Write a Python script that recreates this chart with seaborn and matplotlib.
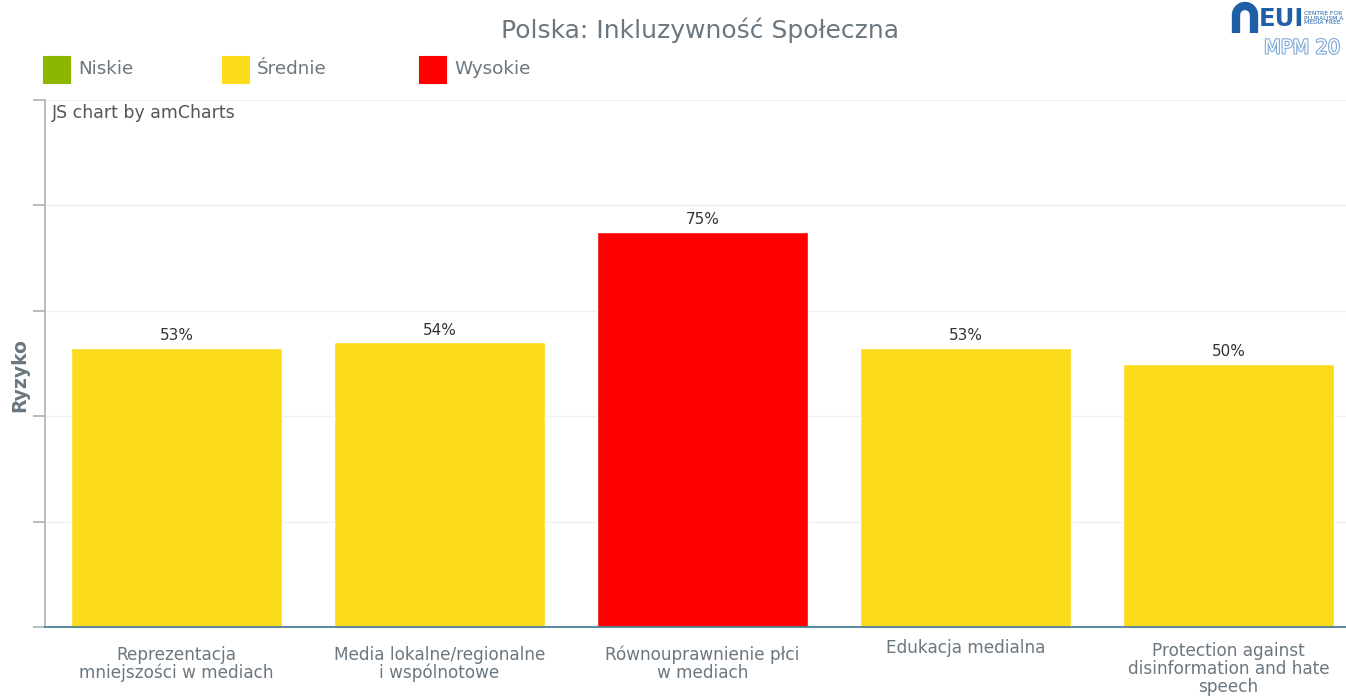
import matplotlib
matplotlib.use("Agg")
import matplotlib.pyplot as plt
import matplotlib.patheffects as pe
from matplotlib.patches import Rectangle
from matplotlib.lines import Line2D
from matplotlib.transforms import blended_transform_factory
import numpy as np
import seaborn as sns
import pandas as pd

categories = ["Reprezentacja\nmniejszości w mediach",
              "Media lokalne/regionalne\ni wspólnotowe",
              "Równouprawnienie płci\nw mediach",
              "Edukacja medialna",
              "Protection against\ndisinformation and hate\nspeech"]
values = [53, 54, 75, 53, 50]
risk = ["Średnie", "Średnie", "Wysokie", "Średnie", "Średnie"]
legend_labels = ["Niskie", "Średnie", "Wysokie"]
legend_colors = ["#8DB600", "#FCDC1A", "#FF0000"]
palette = dict(zip(legend_labels, legend_colors))

df = pd.DataFrame({"cat": categories, "val": values, "risk": risk})

sns.set_theme(style="white")
plt.rcParams['font.family'] = ['DejaVu Sans']

W, H = 1346, 696
fig = plt.figure(figsize=(W / 100, H / 100), dpi=100)
ax = fig.add_axes([45 / W, 69 / H, 1315 / W, 527 / H])

sns.barplot(data=df, x="cat", y="val", hue="risk", palette=palette,
            dodge=False, width=0.805, ax=ax, legend=False, saturation=1)

ax.set_ylim(0, 100)
ax.set_xlim(-0.5, 4.5)
ax.set_yticks([0, 20, 40, 60, 80, 100])
ax.set_yticklabels([])
ax.yaxis.grid(True, color="#f0f0f0", linewidth=1)
ax.set_axisbelow(True)
ax.set_xticks([-0.5, 0.5, 1.5, 2.5, 3.5])
ax.set_xticklabels([])

# vertical centre (figure pixels) of each category label block
label_centres_px = [664, 664, 664, 648, 669]
trans = blended_transform_factory(ax.transData, fig.transFigure)
for i, (c, cy) in enumerate(zip(categories, label_centres_px)):
    ax.text(i, 1 - cy / H, c, transform=trans,
            ha="center", va="center", fontsize=12.2, color="#6b7780", linespacing=1.02)
ax.tick_params(axis="x", length=6, color="#4d7f93", width=1.2, direction="out")
ax.tick_params(axis="y", length=9, color="#a9b3ba", width=1.2, direction="out", left=True)

for s in ["top", "right"]:
    ax.spines[s].set_visible(False)
ax.spines["bottom"].set_color("#4d7f93")
ax.spines["bottom"].set_linewidth(1.3)
ax.spines["left"].set_color("#a9b3ba")
ax.spines["left"].set_linewidth(1.2)

for i, v in enumerate(values):
    ax.text(i, v + 0.9, f"{v}%", ha="center", va="bottom", fontsize=11, color="#333333")

ax.set_xlabel("")
ax.set_ylabel("")
fig.text(20 / W, 1 - 375 / H, "Ryzyko", rotation=90, fontsize=13.5, fontweight="bold",
         color="#6b7780", ha="center", va="center")

fig.text(700 / W, 1 - 30 / H, "Polska: Inkluzywność Społeczna", ha="center", va="center",
         fontsize=18, color="#6b7780")

fig.text(52 / W, 1 - 113 / H, "JS chart by amCharts",
         fontsize=12.5, color="#555555", ha="left", va="center")

# legend (manual, figure-pixel layout)
leg_x = [43, 222, 419]
for lx, lab, col in zip(leg_x, legend_labels, legend_colors):
    fig.add_artist(Rectangle((lx / W, 1 - 83 / H), 27 / W, 27 / H,
                             transform=fig.transFigure, facecolor=col,
                             edgecolor=col, linewidth=0.8))
    fig.text((lx + 35) / W, 1 - 69 / H, lab, fontsize=13.2, color="#6b7780",
             ha="left", va="center")

# logo approximation
t = np.linspace(np.pi, 0, 30)
cx, cy, r = 1245, 15, 9
xs = np.concatenate([[cx - r], cx + r * np.cos(t), [cx + r]])
ys = np.concatenate([[33], cy - r * np.sin(t), [33]])
fig.add_artist(Line2D(xs / W, 1 - ys / H, transform=fig.transFigure,
                      color="#1f5fa8", linewidth=6, solid_capstyle="butt"))
fig.text(1259 / W, 1 - 19 / H, "EUI", fontsize=17.5, color="#1f5fa8", fontweight="bold",
         ha="left", va="center")
fig.text(1304 / W, 1 - 18 / H, "CENTRE FOR\nPLURALISM A\nMEDIA FREE", fontsize=4.3,
         color="#1f5fa8", ha="left", va="center", linespacing=0.95)
fig.text(1264 / W, 1 - 48 / H, "MPM 20", fontsize=14, color="white", ha="left",
         va="center", path_effects=[pe.withStroke(linewidth=1.6, foreground="#7fa8d6")])

fig.savefig("out.png", dpi=100)
